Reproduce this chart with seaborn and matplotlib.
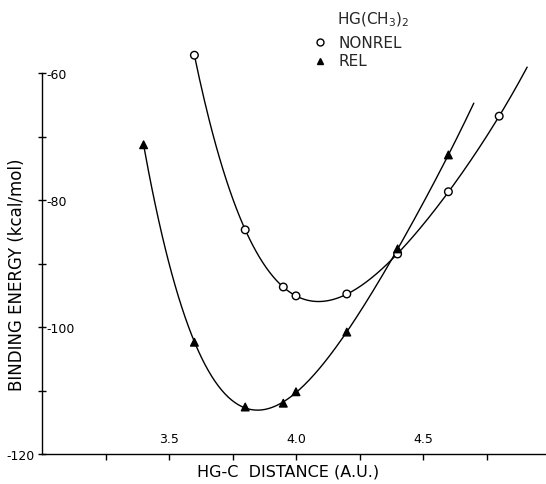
import numpy as np
import pandas as pd
import matplotlib
matplotlib.use('Agg')
import matplotlib.pyplot as plt
import matplotlib.transforms as mtransforms
import seaborn as sns

# Hg(CH3)2 binding energy vs Hg-C distance
nonrel_r = [3.60, 3.80, 3.95, 4.00, 4.20, 4.40, 4.60, 4.80]
nonrel_e = [-57.2, -84.7, -93.7, -95.1, -94.8, -88.5, -78.7, -66.8]
rel_r = [3.40, 3.60, 3.80, 3.95, 4.00, 4.20, 4.40, 4.60]
rel_e = [-71.3, -102.4, -112.6, -112.0, -110.2, -100.8, -87.7, -72.9]

# range of the drawn fitted curves
nonrel_span = [3.60, 4.91]
rel_span = [3.40, 4.70]

sns.set_style('white')
plt.rcParams['font.family'] = ['DejaVu Sans']

pts = pd.DataFrame({
    'r': nonrel_r + rel_r,
    'E': nonrel_e + rel_e,
    'set': ['NONREL'] * len(nonrel_r) + ['REL'] * len(rel_r),
})

fig = plt.figure(figsize=(5.46, 4.85), dpi=100)
ax = fig.add_axes([42/546, 30/485, 504/546, 425/485])

# smooth curves through the points (polynomial fit)
for r, e, span in [(nonrel_r, nonrel_e, nonrel_span), (rel_r, rel_e, rel_span)]:
    cf = np.polyfit(r, e, 4)
    xx = np.linspace(span[0], span[1], 200)
    sns.lineplot(x=xx, y=np.polyval(cf, xx), color='black', lw=1.0, ax=ax)

sns.scatterplot(data=pts, x='r', y='E', style='set', hue='set',
                markers={'NONREL': 'o', 'REL': '^'},
                palette={'NONREL': 'white', 'REL': 'black'},
                edgecolor='black', linewidth=1.0, s=30, zorder=3,
                legend=False, ax=ax)

ax.set_xlim(3.0, 3.0 + 504/254)
ax.set_ylim(-120, -120 + 425/6.35)
for c in ax.collections + ax.lines:
    c.set_clip_on(False)

for s in ['top', 'right']:
    ax.spines[s].set_visible(False)
ax.spines['left'].set_bounds(-120, -60)
ax.spines['left'].set_linewidth(1.0)
ax.spines['bottom'].set_linewidth(1.0)
ax.spines['left'].set_color('black')
ax.spines['bottom'].set_color('black')

ax.set_xticks([3.5, 4.0, 4.5])
ax.set_xticklabels(['3.5', '4.0', '4.5'])
ax.set_xticks([3.25, 3.75, 4.25, 4.75], minor=True)
ax.tick_params(axis='x', which='both', bottom=True, direction='out', length=4,
               width=1, color='black', pad=-20, labelsize=9, labelcolor='black')

ax.set_yticks([-60, -80, -100, -120])
ax.set_yticklabels(['-60', '-80', '-100', '-120'])
ax.set_yticks([-70, -90, -110], minor=True)
ax.tick_params(axis='y', which='both', left=True, direction='inout', length=6,
               width=1, color='black', pad=2, labelsize=9, labelcolor='black')
# all but the bottom label sit right of the axis
for lab in ax.get_yticklabels()[:3]:
    lab.set_horizontalalignment('left')
    lab.set_transform(lab.get_transform() +
                      mtransforms.ScaledTranslation(11/100, 0, fig.dpi_scale_trans))

ax.set_xlabel('HG-C  DISTANCE (A.U.)', fontsize=11.5, color='black')
ax.set_ylabel('BINDING ENERGY (kcal/mol)', fontsize=12, color='black')
ax.xaxis.set_label_coords(246/504, -10/425)
ax.yaxis.set_label_coords(-16/504, 180/425)

# legend block
fig.text(337/546, 1 - 20/485, 'HG(CH$_3$)$_2$', fontsize=11, va='center')
fig.lines.extend([
    plt.Line2D([320/546], [1 - 43/485], marker='o', mfc='white', mec='black',
               mew=1.0, ms=5, transform=fig.transFigure),
    plt.Line2D([320/546], [1 - 62/485], marker='^', mfc='black', mec='black',
               ms=5, transform=fig.transFigure),
])
fig.text(338/546, 1 - 43/485, 'NONREL', fontsize=11, va='center')
fig.text(338/546, 1 - 62/485, 'REL', fontsize=11, va='center')

fig.savefig('out.png', dpi=100)
